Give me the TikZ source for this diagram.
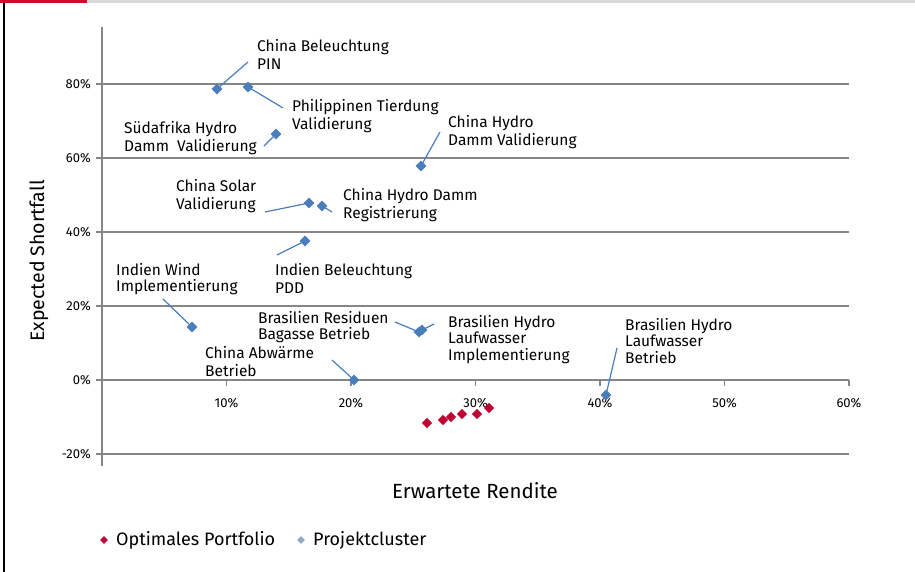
\documentclass[tikz,border=0pt]{standalone}
\usepackage{fontspec}
\setmainfont{Fira Sans}
\usetikzlibrary{shapes.geometric}
\definecolor{ptblue}{HTML}{4A7EBB}
\definecolor{ptred}{HTML}{C00030}
\definecolor{gridgray}{HTML}{868686}
\definecolor{legblue}{HTML}{8EAAC8}
\definecolor{topgray}{HTML}{D9D9D9}
\definecolor{topred}{HTML}{C8102E}
\begin{document}
\begin{tikzpicture}[x=1pt,y=-1pt,
  gridline/.style={gridgray, line width=2.4pt},
  axisline/.style={gridgray, line width=2.4pt},
  tickmark/.style={gridgray, line width=1.6pt},
  proj/.style={diamond, fill=ptblue, inner sep=0pt, minimum size=11pt},
  opt/.style={diamond, fill=ptred, inner sep=0pt, minimum size=10.5pt},
  lbl/.style={anchor=north west, inner sep=0pt, align=left, font=\fontsize{15.5}{18.5}\selectfont},
  lbltight/.style={anchor=north west, inner sep=0pt, align=left, font=\fontsize{15.5}{16.7}\selectfont},
  lead/.style={ptblue, line width=1.2pt},
  ticklbl/.style={font=\fontsize{13}{15}\selectfont, inner sep=0pt},
  legtext/.style={font=\fontsize{18}{20}\selectfont, inner sep=0pt, anchor=west}]
\useasboundingbox (0,0) rectangle (915,572);
% frame
\fill[topgray] (87,0) rectangle (915,3);
\fill[topred] (0,0) rectangle (87,3);
\draw[black, line width=1.3pt] (4,3) -- (4,572);
% grid lines
\foreach \yy in {84,158,232,306,454} \draw[gridline] (102,\yy) -- (849,\yy);
% x axis and ticks
\draw[axisline] (102,380) -- (849,380);
\foreach \xx in {226.5,351,475.5,600,724.5,849} \draw[tickmark] (\xx,380) -- (\xx,386);
% y axis and ticks
\draw[axisline] (102,27) -- (102,466);
\foreach \yy in {84,158,232,306,380,454} \draw[tickmark] (96,\yy) -- (102,\yy);
% tick labels
\foreach \yy/\lab [count=\i] in {84/80\%,158/60\%,232/40\%,306/20\%,380/0\%,454/-20\%}
  \node[ticklbl, anchor=east] (yl\i) at (91,\yy) {\lab};
\foreach \xx/\lab [count=\i] in {226.5/10\%,351/20\%,475.5/30\%,600/40\%,724.5/50\%,849/60\%}
  \node[ticklbl] (xl\i) at (\xx,403) {\lab};
% axis titles
\node[font=\fontsize{20.5}{22}\selectfont, inner sep=0pt] (xtitle) at (475,491) {Erwartete Rendite};
\node[font=\fontsize{19.5}{22}\selectfont, inner sep=0pt, rotate=90] (ytitle) at (39,261) {Expected Shortfall};
% optimal portfolio points
\node[opt] (o1) at (427,423) {};
\node[opt] (o2) at (443,420) {};
\node[opt] (o3) at (451,417) {};
\node[opt] (o4) at (462,414) {};
\node[opt] (o5) at (477,414) {};
\node[opt] (o6) at (489,408) {};
% project cluster points
\node[proj] (pA) at (217,89) {};
\node[proj] (pB) at (248,87) {};
\node[proj] (pC) at (276,134) {};
\node[proj] (pD) at (421,166) {};
\node[proj] (pE) at (309,203) {};
\node[proj] (pF) at (322,206) {};
\node[proj] (pG) at (305,241) {};
\node[proj] (pH) at (192,327) {};
\node[proj] (pI) at (419,332) {};
\node[proj] (pI2) at (422,330) {};
\node[proj] (pJ) at (354,380) {};
\node[proj] (pK) at (606,395) {};
% labels
\node[lbl] (lA) at (257,39) {China Beleuchtung\\PIN};
\node[lbl] (lB) at (292,99) {Philippinen Tierdung\\Validierung};
\node[lbl] (lC) at (124,121) {Südafrika Hydro\\Damm\ \ Validierung};
\node[lbl] (lD) at (448,115) {China Hydro\\Damm Validierung};
\node[lbl] (lE) at (176,179) {China Solar\\Validierung};
\node[lbl] (lF) at (343,188) {China Hydro Damm\\Registrierung};
\node[lbl] (lG) at (275,263) {Indien Beleuchtung\\PDD};
\node[lbltight] (lH) at (116,263) {Indien Wind\\Implementierung};
\node[lbltight] (lI) at (258,311) {Brasilien Residuen\\Bagasse Betrieb};
\node[lbltight] (lI2) at (448,315) {Brasilien Hydro\\Laufwasser\\Implementierung};
\node[lbl] (lJ) at (205,346) {China Abwärme\\Betrieb};
\node[lbltight] (lK) at (625,318) {Brasilien Hydro\\Laufwasser\\Betrieb};
% leader ends
\coordinate (cA) at (248,62);
\coordinate (cB) at (283,108);
\coordinate (cC) at (264,146);
\coordinate (cD) at (440,132);
\coordinate (cE) at (265,212);
\coordinate (cF) at (332,212);
\coordinate (cG) at (277,255);
\coordinate (cH) at (163,299);
\coordinate (cI) at (395,322);
\coordinate (cI2) at (434,324);
\coordinate (cJ) at (332,360);
\coordinate (cK) at (617,348);
\draw[lead] (cA) -- (pA.center);
\draw[lead] (cB) -- (pB.center);
\draw[lead] (cC) -- (pC.center);
\draw[lead] (cD) -- (pD.center);
\draw[lead] (cE) -- (pE.center);
\draw[lead] (cF) -- (pF.center);
\draw[lead] (cG) -- (pG.center);
\draw[lead] (cH) -- (pH.center);
\draw[lead] (cI) -- (pI.center);
\draw[lead] (cI2) -- (pI2.center);
\draw[lead] (cJ) -- (pJ.center);
\draw[lead] (cK) -- (pK.center);
% legend
\node[diamond, fill=ptred, inner sep=0pt, minimum size=8pt] (legO) at (104,540) {};
\node[legtext] (legOt) at (116,540) {Optimales Portfolio};
\node[diamond, fill=legblue, inner sep=0pt, minimum size=8pt] (legP) at (301,540) {};
\node[legtext] (legPt) at (313,540) {Projektcluster};
\end{tikzpicture}
\end{document}
